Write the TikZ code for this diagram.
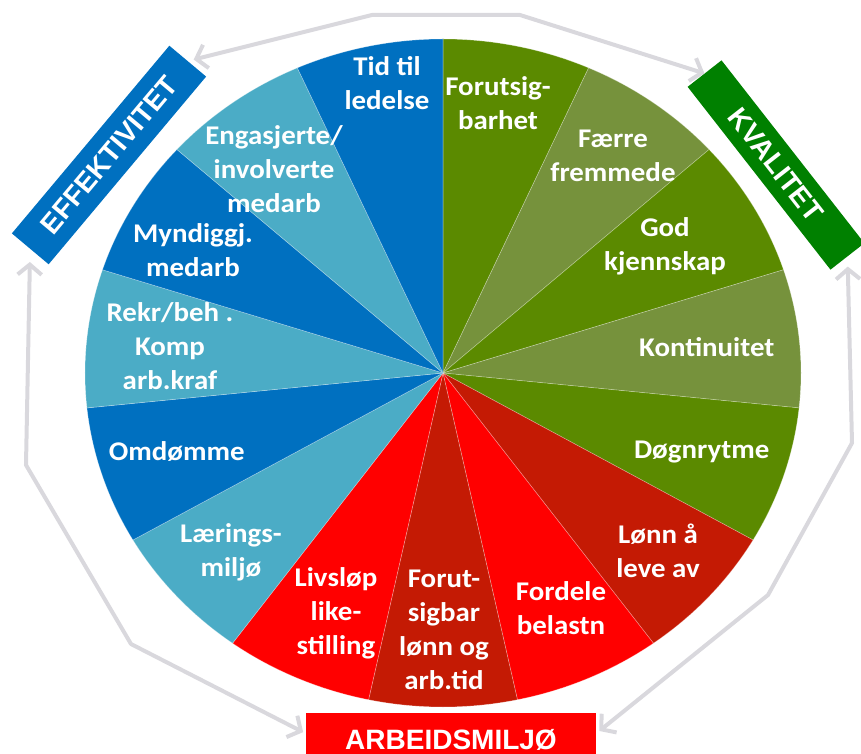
\documentclass[tikz,border=0pt]{standalone}
\usepackage{fontspec}
\setmainfont{Carlito}[FakeStretch=1.07]
\newfontfamily\headfont{Liberation Sans}
\usetikzlibrary{
    arrows.meta
}
\definecolor{effblue}{HTML}{0070C0}
\definecolor{lightblue}{HTML}{4BACC6}
\definecolor{darkgreen}{HTML}{5B8A00}
\definecolor{olivegreen}{HTML}{76923C}
\definecolor{kvalgreen}{HTML}{008000}
\definecolor{brightred}{HTML}{FF0000}
\definecolor{darkred}{HTML}{C41A04}
\definecolor{framegray}{HTML}{D9D8DD}
\newcommand{\pieslice}[3]{%
    \filldraw[
        fill=#1,
        draw=white,
        draw opacity=0.35,
        line width=0.6pt
    ]
        (0,0) -- (#2:358 and 334)
        arc[start angle=#2, end angle=#3, x radius=358, y radius=334]
        -- cycle;%
}

\begin{document}
\begin{tikzpicture}[
    x=1pt,
    y=1pt,
    segment/.style={
        text=white,
        font=\fontsize{27}{34}\selectfont\bfseries,
        align=center,
        inner sep=0pt
    },
    category/.style={
        rectangle,
        text=white,
        font=\headfont\bfseries\fontsize{28}{34}\selectfont,
        minimum width=245pt,
        minimum height=48pt,
        inner sep=0pt
    },
    arrow/.style={
        {Straight Barb[length=10pt, width=24pt]}-{Straight Barb[length=10pt, width=24pt]},
        line width=4pt,
        draw=framegray,
        line join=round
    }
]

\useasboundingbox (-443,-381) rectangle (418,373);

% slices

\pieslice{darkgreen}{90}{66}
\pieslice{olivegreen}{66}{42}
\pieslice{darkgreen}{42}{18}
\pieslice{olivegreen}{18}{-6}
\pieslice{darkgreen}{-6}{-30}
\pieslice{darkred}{-30}{-54}
\pieslice{brightred}{-54}{-78}
\pieslice{darkred}{-78}{-102}
\pieslice{brightred}{-102}{-126}
\pieslice{lightblue}{-126}{-150}
\pieslice{effblue}{-150}{-174}
\pieslice{lightblue}{-174}{-198}
\pieslice{effblue}{162}{138}
\pieslice{lightblue}{138}{114}
\pieslice{effblue}{114}{90}

% slice labels

\node[segment] (forutsigbarhet) at (55,270) {
    Forutsig-\\
    barhet
};

\node[segment] (faerre) at (170,217) {
    Færre\\
    fremmede
};

\node[segment] (kjennskap) at (222,127) {
    God\\
    kjennskap
};

\node[segment] (kontinuitet) at (267,26) {
    Kontinuitet
};

\node[segment] (dognrytme) at (262,-79) {
    Døgnrytme
};

\node[segment] (lonn) at (215,-178) {
    Lønn å\\
    leve av
};

\node[segment] (belastning) at (118,-235) {
    Fordele\\
    belastn
};

\node[segment] (arbtid) at (1,-257) {
    Forut-\\
    sigbar\\
    lønn og\\
    arb.tid
};

\node[segment] (livslop) at (-107,-240) {
    Livsløp\\
    like-\\
    stilling
};

\node[segment] (laering) at (-212,-179) {
    Lærings-\\
    miljø
};

\node[segment] (omdomme) at (-263,-79) {
    Omdømme
};

\node[segment] (rekruttering) at (-273,27) {
    Rekr/beh .\\
    Komp\\
    arb.kraf
};

\node[segment] (myndiggjorte) at (-250,123) {
    Myndiggj.\\
    medarb
};

\node[segment] (engasjerte) at (-169,204) {
    Engasjerte/\\
    involverte\\
    medarb
};

\node[segment] (ledelse) at (-56,290) {
    Tid til\\
    ledelse
};

% categories

\node[
    category,
    fill=effblue,
    rotate=50
] (effektivitet) at (-334,218) {EFFEKTIVITET};

\node[
    category,
    fill=kvalgreen,
    rotate=-52,
    minimum width=232pt,
    minimum height=43pt
] (kvalitet) at (333,208) {KVALITET};

\node[
    category,
    fill=brightred,
    minimum width=290pt,
    minimum height=0pt,
    text height=32.4pt,
    text depth=0pt,
    inner ysep=4.3pt,
    anchor=base
] (arbeidsmiljo) at (8,-376.7) {ARBEIDSMILJØ};

% frame corners

\coordinate (top left) at (-71,358);
\coordinate (top right) at (77,358);
\coordinate (left upper) at (-417,-92);
\coordinate (left lower) at (-312,-271);
\coordinate (right upper) at (409,-70);
\coordinate (right lower) at (325,-222);

% effektivitet and kvalitet

\draw[arrow, shorten <=6pt]
    (effektivitet.east) -- (top left) -- (top right) -- (kvalitet.west);

% effektivitet and arbeidsmiljo

\draw[arrow, shorten <=13pt, shorten >=3pt]
    (effektivitet.west) -- (left upper) -- (left lower) -- (arbeidsmiljo.west);

% kvalitet and arbeidsmiljo

\draw[arrow, shorten <=10pt, shorten >=4pt]
    (kvalitet.east) -- (right upper) -- (right lower) -- (arbeidsmiljo.east);

\end{tikzpicture}
\end{document}
